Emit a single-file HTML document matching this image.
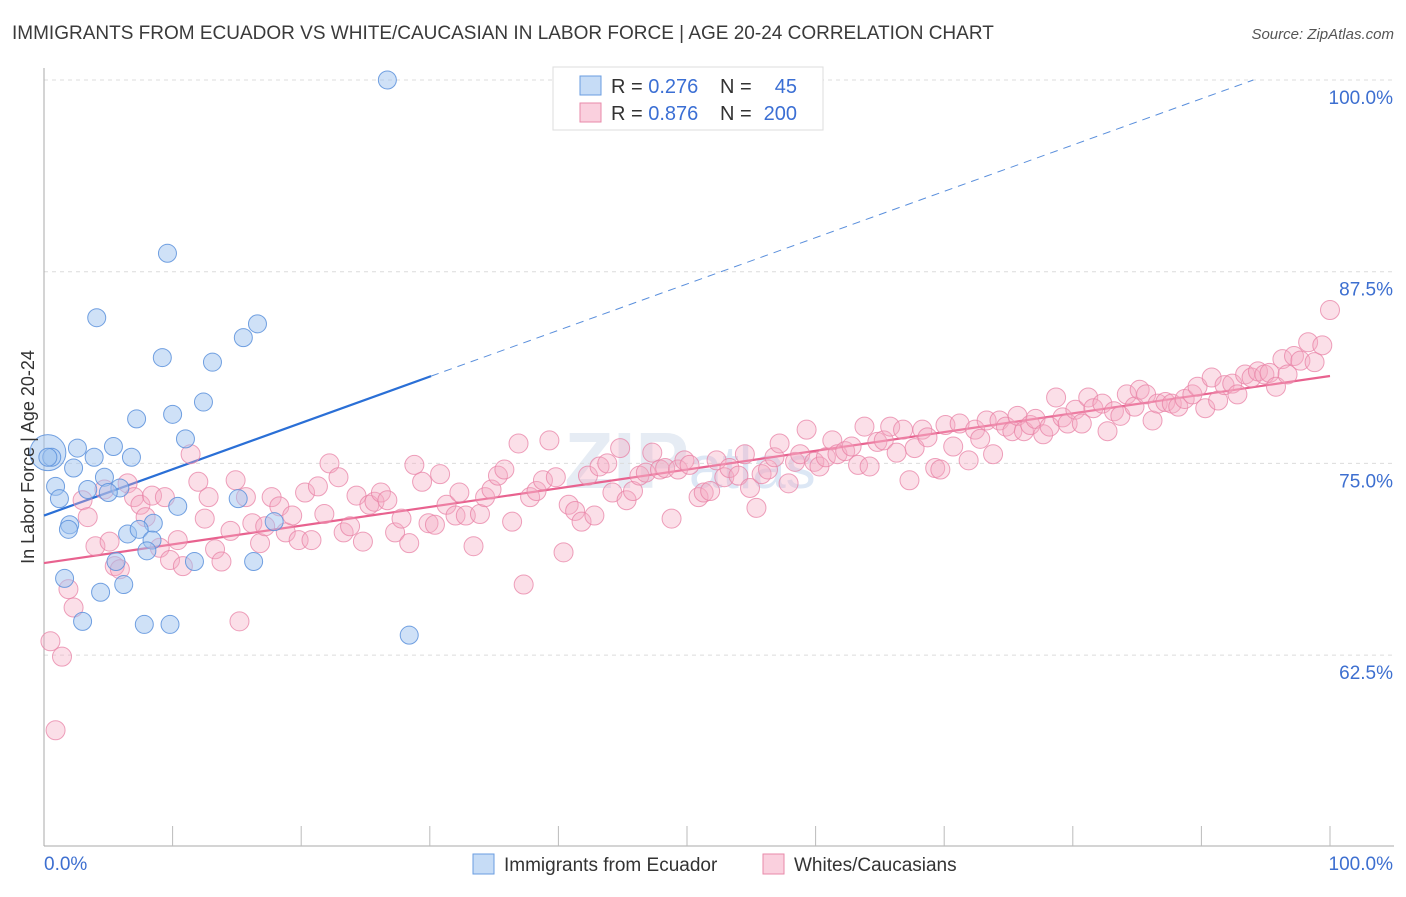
<!DOCTYPE html>
<html><head><meta charset="utf-8"><style>
body{margin:0;background:#fff;font-family:"Liberation Sans",sans-serif;}
svg text{font-family:"Liberation Sans",sans-serif;}
</style></head><body>
<svg id="chart" width="1406" height="892" xmlns="http://www.w3.org/2000/svg">
<text x="12" y="39" font-size="19" fill="#3a3a3a">IMMIGRANTS FROM ECUADOR VS WHITE/CAUCASIAN IN LABOR FORCE | AGE 20-24 CORRELATION CHART</text>
<text x="1394" y="39" font-size="15" fill="#555" font-style="italic" text-anchor="end">Source: ZipAtlas.com</text>
<text x="690" y="488" font-size="80" fill="#e6ecf4" text-anchor="middle" font-weight="bold">ZIP<tspan font-weight="normal" font-size="60" fill="#dce7f5">atlas</tspan></text>
<g id="grid"></g><g id="axes"></g><g id="trend"></g><g id="pts"></g>
<text transform="translate(34,457) rotate(-90)" font-size="18" fill="#333" text-anchor="middle">In Labor Force | Age 20-24</text>
<g>
<rect x="553" y="67" width="270" height="63" fill="#fff" stroke="#ddd"/>
<rect x="580" y="76" width="21" height="19" fill="rgba(160,196,240,0.6)" stroke="#6a9de0"/>
<text x="611" y="93" font-size="20" fill="#333">R = <tspan fill="#3b6fd4">0.276</tspan></text>
<text x="720" y="93" font-size="20" fill="#333">N =</text>
<text x="797" y="93" font-size="20" fill="#3b6fd4" text-anchor="end">45</text>
<rect x="580" y="103" width="21" height="19" fill="rgba(245,170,195,0.55)" stroke="#e88aaa"/>
<text x="611" y="120" font-size="20" fill="#333">R = <tspan fill="#3b6fd4">0.876</tspan></text>
<text x="720" y="120" font-size="20" fill="#333">N =</text>
<text x="797" y="120" font-size="20" fill="#3b6fd4" text-anchor="end">200</text>
</g>
<g><rect x="473" y="854" width="21" height="20" fill="rgba(160,196,240,0.6)" stroke="#6a9de0"/><text x="504" y="871" font-size="19" fill="#333">Immigrants from Ecuador</text></g>
<g><rect x="763" y="854" width="21" height="20" fill="rgba(245,170,195,0.55)" stroke="#e88aaa"/><text x="794" y="871" font-size="19" fill="#333">Whites/Caucasians</text></g>
</svg>
<script>
const yTicks=[100,87.5,75,62.5];
const yTickLabels=["100.0%","87.5%","75.0%","62.5%"];
const xTickLabels=["0.0%","100.0%"];
const blueX=[26.7,9.6,4.1,16.6,15.5,9.2,13.1,12.4,7.2,10.0,11.0,2.6,5.4,0.3,0.6,3.9,6.8,2.3,4.7,3.4,5.9,5.0,0.9,1.2,10.4,15.1,17.9,2.0,8.5,1.9,6.5,7.4,8.4,8.0,5.6,11.7,16.3,6.2,1.6,4.4,3.0,7.8,9.8,28.4,0.3];
const blueY=[100,88.7,84.5,84.1,83.2,81.9,81.6,79.0,77.9,78.2,76.6,76.0,76.1,75.7,75.4,75.4,75.4,74.7,74.1,73.3,73.4,73.1,73.5,72.7,72.2,72.7,71.2,71.0,71.1,70.7,70.4,70.7,70.0,69.3,68.6,68.6,68.6,67.1,67.5,66.6,64.7,64.5,64.5,63.8,75.4];
const blueSize=[1,1,1,1,1,1,1,1,1,1,1,1,1,2,1,1,1,1,1,1,1,1,1,1,1,1,1,1,1,1,1,1,1,1,1,1,1,1,1,1,1,1,1,1,1];
const pinkX=[0.5,1.4,0.9,1.9,2.3,3.0,3.4,4.0,4.7,5.1,5.5,5.9,6.5,7.0,7.5,7.9,8.4,9.0,9.4,9.8,10.4,10.8,11.4,12.0,12.5,12.8,13.3,13.8,14.5,14.9,15.2,15.7,16.2,16.8,17.2,17.7,18.3,18.8,19.3,19.8,20.3,20.8,21.3,21.8,22.2,22.9,23.3,23.8,24.3,24.8,25.3,25.7,26.2,26.7,27.3,27.8,28.4,28.8,29.4,29.9,30.4,30.8,31.3,32.0,32.3,32.8,33.4,33.9,34.3,34.8,35.3,35.8,36.4,36.9,37.3,37.8,38.3,38.8,39.3,39.8,40.4,40.8,41.3,41.8,42.3,42.8,43.2,43.8,44.2,44.8,45.3,45.8,46.3,46.8,47.3,47.9,48.3,48.8,49.3,49.8,50.2,50.9,51.3,51.8,52.3,52.9,53.3,54.0,54.5,54.9,55.4,55.8,56.3,56.8,57.2,57.9,58.4,58.8,59.3,59.9,60.3,60.8,61.3,61.7,62.3,62.8,63.3,63.8,64.2,64.8,65.3,65.8,66.3,66.8,67.3,67.7,68.3,68.7,69.3,69.7,70.1,70.7,71.2,71.9,72.4,72.8,73.3,73.8,74.3,74.8,75.3,75.7,76.2,76.7,77.1,77.7,78.2,78.7,79.2,79.6,80.2,80.7,81.2,81.6,82.3,82.7,83.2,83.7,84.2,84.8,85.2,85.7,86.2,86.6,87.2,87.7,88.2,88.7,89.3,89.7,90.3,90.8,91.3,91.8,92.4,92.8,93.4,93.9,94.4,94.9,95.3,95.8,96.3,96.7,97.2,97.7,98.3,98.8,99.4,100.0];
const pinkY=[63.4,62.4,57.6,66.8,65.6,72.6,71.5,69.6,73.3,69.9,68.3,68.1,73.7,72.8,72.3,71.5,72.9,69.5,72.8,68.7,70.0,68.3,75.6,73.8,71.4,72.8,69.4,68.6,70.6,73.9,64.7,72.8,71.1,69.8,70.9,72.8,72.2,70.5,71.6,70.0,73.1,70.0,73.5,71.7,75.0,74.1,70.5,70.9,72.9,69.9,72.3,72.5,73.1,72.6,70.5,71.4,69.8,74.9,73.8,71.1,71.0,74.3,72.3,71.6,73.1,71.6,69.6,71.7,72.8,73.3,74.2,74.6,71.2,76.3,67.1,72.8,73.2,73.9,76.5,74.1,69.2,72.3,71.9,71.2,74.2,71.6,74.8,75.0,73.1,76.0,72.6,73.2,74.2,74.4,75.7,74.6,74.7,71.4,74.6,75.2,74.9,72.8,73.1,73.2,75.2,74.1,74.7,74.2,75.6,73.4,72.1,74.3,74.6,75.4,76.3,73.7,75.1,75.6,77.2,75.1,74.8,75.4,76.5,75.6,75.8,76.1,74.9,77.4,74.8,76.4,76.5,77.4,75.7,77.2,73.9,76.0,77.2,76.7,74.7,74.6,77.5,76.1,77.6,75.2,77.2,76.6,77.8,75.6,77.8,77.4,77.1,78.1,77.1,77.5,77.9,76.9,77.4,79.3,78.0,77.6,78.5,77.6,79.3,78.6,78.9,77.1,78.4,78.1,79.5,78.7,79.8,79.5,77.8,78.9,79.0,78.9,78.7,79.2,79.5,80.0,78.6,80.6,79.1,80.1,80.2,79.5,80.8,80.6,81.0,80.8,80.9,80.0,81.8,80.8,82.0,81.7,82.9,81.6,82.7,85.0];
const blueTrend=[71.6,0.302];
const pinkTrend=[68.5,0.122];
const NS="http://www.w3.org/2000/svg";
const X0=44,X1=1330,YTOP=80,PX125=191.7;
function sx(v){return X0+(X1-X0)*v/100;}
function sy(v){return YTOP+(100-v)/12.5*PX125;}
function mk(tag,attrs,parent){const e=document.createElementNS(NS,tag);for(const k in attrs)e.setAttribute(k,attrs[k]);parent.appendChild(e);return e;}
const grid=document.getElementById('grid'),axes=document.getElementById('axes'),trend=document.getElementById('trend'),pts=document.getElementById('pts');
yTicks.forEach((t,i)=>{
 const l=mk('line',{x1:X0,x2:1394,y1:sy(t),y2:sy(t),stroke:'#dcdcdc','stroke-dasharray':'4,4'},grid);
 
 
 const tx=mk('text',{x:1393,y:sy(t)+24,'font-size':'19',fill:'#3d6fd0','text-anchor':'end'},grid);
 tx.textContent=yTickLabels[i];
 
 
});
const ya=mk('line',{x1:X0,x2:X0,y1:68,y2:846,stroke:'#aaa'},axes);


const xa=mk('line',{x1:X0,x2:1394,y1:846,y2:846,stroke:'#aaa'},axes);


for(let i=1;i<=10;i++){const tk=mk('line',{x1:sx(i*10),x2:sx(i*10),y1:826,y2:846,stroke:'#bbb'},axes);
 
 }
const xl0=mk('text',{x:44,y:870,'font-size':'19',fill:'#3d6fd0'},axes);xl0.textContent=xTickLabels[0];


const xl1=mk('text',{x:1393,y:870,'font-size':'19',fill:'#3d6fd0','text-anchor':'end'},axes);xl1.textContent=xTickLabels[1];


pinkX.forEach((x,i)=>{const c=mk('circle',{cx:sx(x),cy:sy(pinkY[i]),r:9.5,fill:'rgba(245,170,195,0.38)',stroke:'rgba(232,130,165,0.75)','stroke-width':1},pts);
 
 });
blueX.forEach((x,i)=>{const c=mk('circle',{cx:sx(x),cy:sy(blueY[i]),r:blueSize[i]==2?18:9,fill:'rgba(160,196,240,0.5)',stroke:'rgba(90,145,220,0.85)','stroke-width':1},pts);
 
 });
const bEnd=Math.max(...blueX)+1.7;
const bt=mk('line',{x1:sx(0),y1:sy(blueTrend[0]),x2:sx(bEnd),y2:sy(blueTrend[0]+blueTrend[1]*bEnd),stroke:'#2a6fd6','stroke-width':2.2},trend);


const xe=(100-blueTrend[0])/blueTrend[1];
const bd=mk('line',{x1:sx(bEnd),y1:sy(blueTrend[0]+blueTrend[1]*bEnd),x2:sx(xe),y2:sy(100),stroke:'#5a8fdc','stroke-width':1,'stroke-dasharray':'8,6'},trend);


const pt=mk('line',{x1:sx(0),y1:sy(pinkTrend[0]),x2:sx(100),y2:sy(pinkTrend[0]+pinkTrend[1]*100),stroke:'#e8628f','stroke-width':2.2},trend);


</script>
</body></html>
